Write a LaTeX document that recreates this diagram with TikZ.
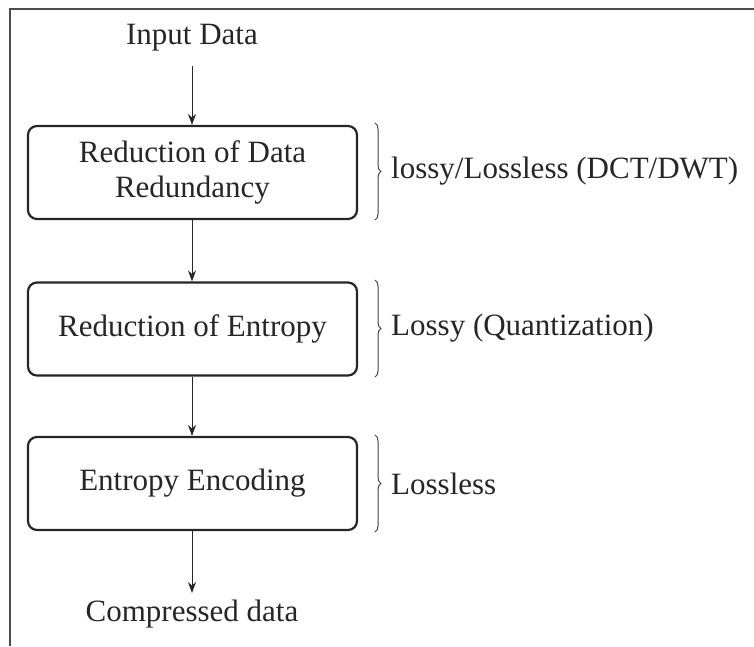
\documentclass[tikz,border=0pt]{standalone}
\usepackage{fontspec}
\setmainfont{Liberation Serif}
\usetikzlibrary{arrows.meta,decorations.pathreplacing}
\begin{document}
\begin{tikzpicture}[x=1pt,y=-1pt,
  every node/.style={font=\fontsize{31}{35}\selectfont, text=black!85},
  stage/.style={draw=black!85, line width=2.2pt, rounded corners=9pt,
    minimum width=329pt, minimum height=93pt, align=center, inner sep=0pt},
  flow/.style={draw=black!85, line width=1pt, -{Stealth[length=11pt,width=8pt]}},
  bracket/.style={draw=black!75, line width=1pt,
    decorate, decoration={brace, amplitude=6pt}},
  note/.style={anchor=west, inner sep=0pt}]
  \useasboundingbox (0,0) rectangle (754,646);
  % open frame: top and left edges only
  \draw[black!70, line width=2pt] (10,646) -- (10,9) -- (754,9);

  \node (in) at (192,38) {Input Data};
  \node[stage] (s1) at (192.5,172.5) {Reduction of Data\\Redundancy};
  \node[stage] (s2) at (192.5,329) {Reduction of Entropy};
  \node[stage] (s3) at (192.5,483.5) {Entropy Encoding};
  \node (out) at (192,614) {Compressed data};

  \coordinate (a0) at (192,66);
  \draw[flow] (a0) -- (a0 |- s1.north);
  \draw[flow] (a0 |- s1.south) -- (a0 |- s2.north);
  \draw[flow] (a0 |- s2.south) -- (a0 |- s3.north);
  \coordinate (a4) at (192,593);
  \draw[flow] (a0 |- s3.south) -- (a4);

  % braces with their labels
  \draw[bracket] (375,123) -- (375,220);
  \draw[bracket] (375,280) -- (375,377);
  \draw[bracket] (375,435) -- (375,532);
  \node[note] (n1) at (391,171.5) {lossy/Lossless (DCT/DWT)};
  \node[note] (n2) at (391,328.5) {Lossy (Quantization)};
  \node[note] (n3) at (391,483.5) {Lossless};
\end{tikzpicture}
\end{document}
